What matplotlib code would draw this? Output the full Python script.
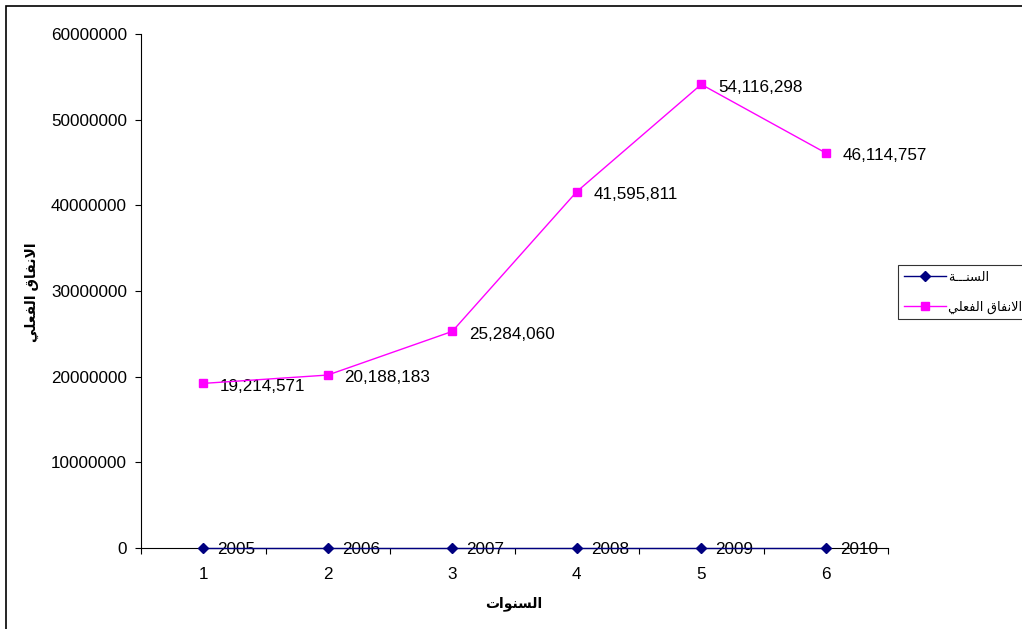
import numpy as np
import matplotlib
matplotlib.use('Agg')
import matplotlib.pyplot as plt
from matplotlib.patches import Rectangle

plt.rcParams['font.family'] = ['Liberation Sans', 'DejaVu Sans']

# data
positions = [1, 2, 3, 4, 5, 6]
years = [2005, 2006, 2007, 2008, 2009, 2010]
spending = [19214571, 20188183, 25284060, 41595811, 54116298, 46114757]
y_ticks = [0, 10000000, 20000000, 30000000, 40000000, 50000000, 60000000]

series_year = 'السنـــة'
series_spend = 'الانفاق الفعلي'
x_title = 'السنوات'
y_title = 'الانفاق الفعلي'

# matplotlib has no arabic shaping, so pick presentation forms by hand
# (iso, fin) for right-joining letters, (iso, fin, ini, med) for dual-joining
FORMS = {
    'ا': ('\uFE8D', '\uFE8E'),
    'ة': ('\uFE93', '\uFE94'),
    'و': ('\uFEED', '\uFEEE'),
    'لا': ('\uFEFB', '\uFEFC'),
    'ل': ('\uFEDD', '\uFEDE', '\uFEDF', '\uFEE0'),
    'س': ('\uFEB1', '\uFEB2', '\uFEB3', '\uFEB4'),
    'ن': ('\uFEE5', '\uFEE6', '\uFEE7', '\uFEE8'),
    'ف': ('\uFED1', '\uFED2', '\uFED3', '\uFED4'),
    'ق': ('\uFED5', '\uFED6', '\uFED7', '\uFED8'),
    'ع': ('\uFEC9', '\uFECA', '\uFECB', '\uFECC'),
    'ي': ('\uFEF1', '\uFEF2', '\uFEF3', '\uFEF4'),
    'ت': ('\uFE95', '\uFE96', '\uFE97', '\uFE98'),
    'ـ': ('ـ', 'ـ', 'ـ', 'ـ'),
}


def shape(text):
    tokens = []
    i = 0
    while i < len(text):
        if text[i:i + 2] == 'لا':
            tokens.append('لا')
            i += 2
        else:
            tokens.append(text[i])
            i += 1
    out = []
    for i, t in enumerate(tokens):
        if t not in FORMS:
            out.append(t)
            continue
        prev = i > 0 and tokens[i - 1] in FORMS and len(FORMS[tokens[i - 1]]) == 4
        nxt = len(FORMS[t]) == 4 and i + 1 < len(tokens) and tokens[i + 1] in FORMS
        idx = {(False, False): 0, (True, False): 1, (False, True): 2, (True, True): 3}[(prev, nxt)]
        out.append(FORMS[t][idx])
    return ''.join(out)[::-1]


W, H = 1022, 629
fs = 12.3
fig = plt.figure(figsize=(W / 100, H / 100), dpi=100)
ax = fig.add_axes([141 / W, 1 - 548 / H, (888 - 141) / W, (548 - 34) / H])

ax.plot(positions, years, color='#000080', lw=1, marker='D', markersize=5,
        label=shape(series_year), clip_on=False, zorder=5)
ax.plot(positions, spending, color='#FF00FF', lw=1, marker='s', markersize=6,
        label=shape(series_spend), clip_on=False, zorder=4)

for x, v in zip(positions, years):
    ax.annotate(str(v), (x, v), xytext=(10, -1), textcoords='offset points',
                ha='left', va='center', fontsize=fs)
for x, v in zip(positions, spending):
    ax.annotate('{:,}'.format(v), (x, v), xytext=(12, -2), textcoords='offset points',
                ha='left', va='center', fontsize=fs)

ax.set_xlim(0.5, 6.5)
ax.set_ylim(0, 60000000)
ax.set_yticks(y_ticks)
ax.set_yticklabels([str(t) for t in y_ticks], fontsize=fs)
ax.set_xticks(np.arange(0.5, 7, 1))
ax.set_xticklabels([])
ax.set_xticks(positions, minor=True)
ax.set_xticklabels([str(p) for p in positions], minor=True, fontsize=fs)
ax.tick_params(which='major', direction='out', length=4, width=0.8, pad=6)
ax.tick_params(axis='x', which='minor', length=0, pad=14)

for s in ['top', 'right']:
    ax.spines[s].set_visible(False)
for s in ['left', 'bottom']:
    ax.spines[s].set_linewidth(0.8)

fig.text(514 / W, 1 - 604 / H, shape(x_title), ha='center', va='center',
         fontsize=10, fontweight='bold')
fig.text(32 / W, 1 - 292 / H, shape(y_title), ha='center', va='center',
         rotation=90, fontsize=10, fontweight='bold')

leg = fig.legend(loc='upper left', bbox_to_anchor=(898 / W, 1 - 265 / H),
                 borderaxespad=0, fontsize=9.3, handlelength=3.3, frameon=True,
                 fancybox=False, borderpad=0.45, labelspacing=1.3, handletextpad=0.15,
                 handleheight=0.9)
leg.get_frame().set_edgecolor('black')
leg.get_frame().set_linewidth(0.8)

fig.patches.append(Rectangle((6 / W, -0.05), 1.2, 1 - 6 / H + 0.05,
                             transform=fig.transFigure, fill=False,
                             edgecolor='black', lw=1.2))

fig.savefig('out.png', dpi=100)
